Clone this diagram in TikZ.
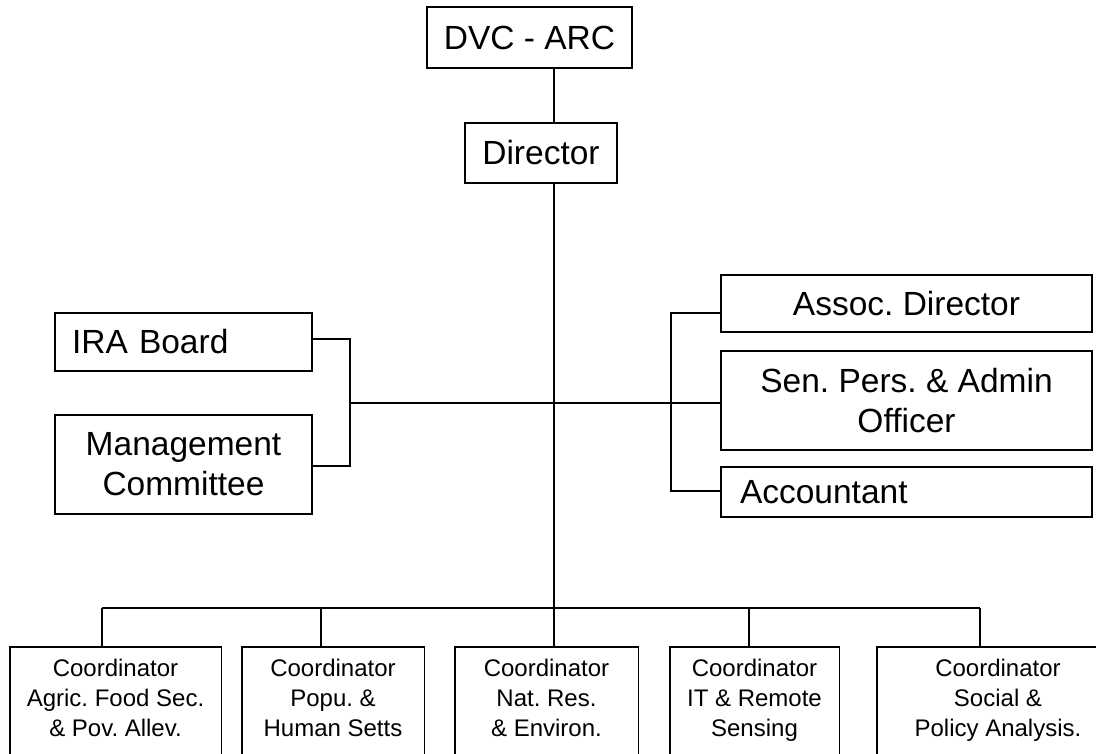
\documentclass[tikz,border=0pt]{standalone}
\usepackage{fontspec}
\setmainfont{Liberation Sans}
\frenchspacing
\begin{document}
\begin{tikzpicture}[x=1pt,y=-1pt,
  box/.style={draw, line width=1.4pt, inner sep=0pt, align=center,
    font=\fontsize{33.5}{40}\selectfont},
  leftbox/.style={box, align=left},
  cbox/.style={anchor=north, align=center,
    font=\fontsize{24}{30}\selectfont, inner xsep=0pt, inner ysep=12pt},
  conn/.style={line width=1.4pt}]
\useasboundingbox (0,0) rectangle (1096,753);
\clip (0,0) rectangle (1096,753);
\fill[white] (0,0) rectangle (1096,753);

% top
\node[box, minimum width=205pt, minimum height=61pt] (dvc) at (529.5,37.5) {DVC - ARC};
\node[box, minimum width=152pt, minimum height=60pt] (dir) at (541,153) {Director};

% left
\node[leftbox, text width=223pt, minimum width=257pt, minimum height=58pt] (ira) at (183.5,342) {IRA Board};
\node[box, minimum width=257pt, minimum height=99pt] (mgmt) at (183.5,464.5) {Management\\Committee};

% right
\node[box, minimum width=371pt, minimum height=57pt] (assoc) at (906.5,303.5) {Assoc. Director};
\node[box, minimum width=371pt, minimum height=99pt] (sen) at (906.5,400.5) {Sen. Pers. \& Admin\\Officer};
\node[leftbox, text width=333pt, minimum width=371pt, minimum height=50pt] (acc) at (906.5,492) {Accountant};

% coordinators (boxes run past the lower edge of the picture)
\node[cbox, minimum width=211pt] (c1) at (115.5,647) {Coordinator\\Agric. Food Sec.\\\& Pov. Allev.};
\node[cbox, minimum width=182pt] (c2) at (333,647) {Coordinator\\Popu. \&\\Human Setts};
\node[cbox, minimum width=183pt] (c3) at (546.5,647) {Coordinator\\Nat. Res.\\\& Environ.};
\node[cbox, minimum width=169pt] (c4) at (754.5,647) {Coordinator\\IT \& Remote\\Sensing};
\node[cbox, minimum width=242pt] (c5) at (998,647) {Coordinator\\Social \&\\Policy Analysis.};
\foreach \c in {c1,c2,c3,c4,c5}
  \draw[conn] (\c.north west) rectangle (\c.east |- 0,790);

% connector points
\coordinate (sp) at (554,0);
\coordinate (lb) at (350,403);
\coordinate (rb) at (671,403);
\coordinate (bus) at (554,608);
\coordinate (d1) at (102,608);
\coordinate (d2) at (321,608);
\coordinate (d4) at (749,608);
\coordinate (d5) at (980,608);

% connectors
\draw[conn] (dvc.south -| sp) -- (dir.north -| sp);
\draw[conn] (dir.south -| sp) -- (bus);
\draw[conn] (lb) -- (rb);
\draw[conn] ([yshift=3pt]ira.east) -| (lb);
\draw[conn] ([yshift=-1.5pt]mgmt.east) -| (lb);
\draw[conn] ([yshift=-9.5pt]assoc.west) -| (rb);
\draw[conn] ([yshift=-2.5pt]sen.west) -- (rb);
\draw[conn] ([yshift=1pt]acc.west) -| (rb);
\draw[conn] (d1) -- (d5);
\draw[conn] (d1) -- (d1 |- c1.north);
\draw[conn] (d2) -- (d2 |- c2.north);
\draw[conn] (bus) -- (bus |- c3.north);
\draw[conn] (d4) -- (d4 |- c4.north);
\draw[conn] (d5) -- (d5 |- c5.north);
\end{tikzpicture}
\end{document}
